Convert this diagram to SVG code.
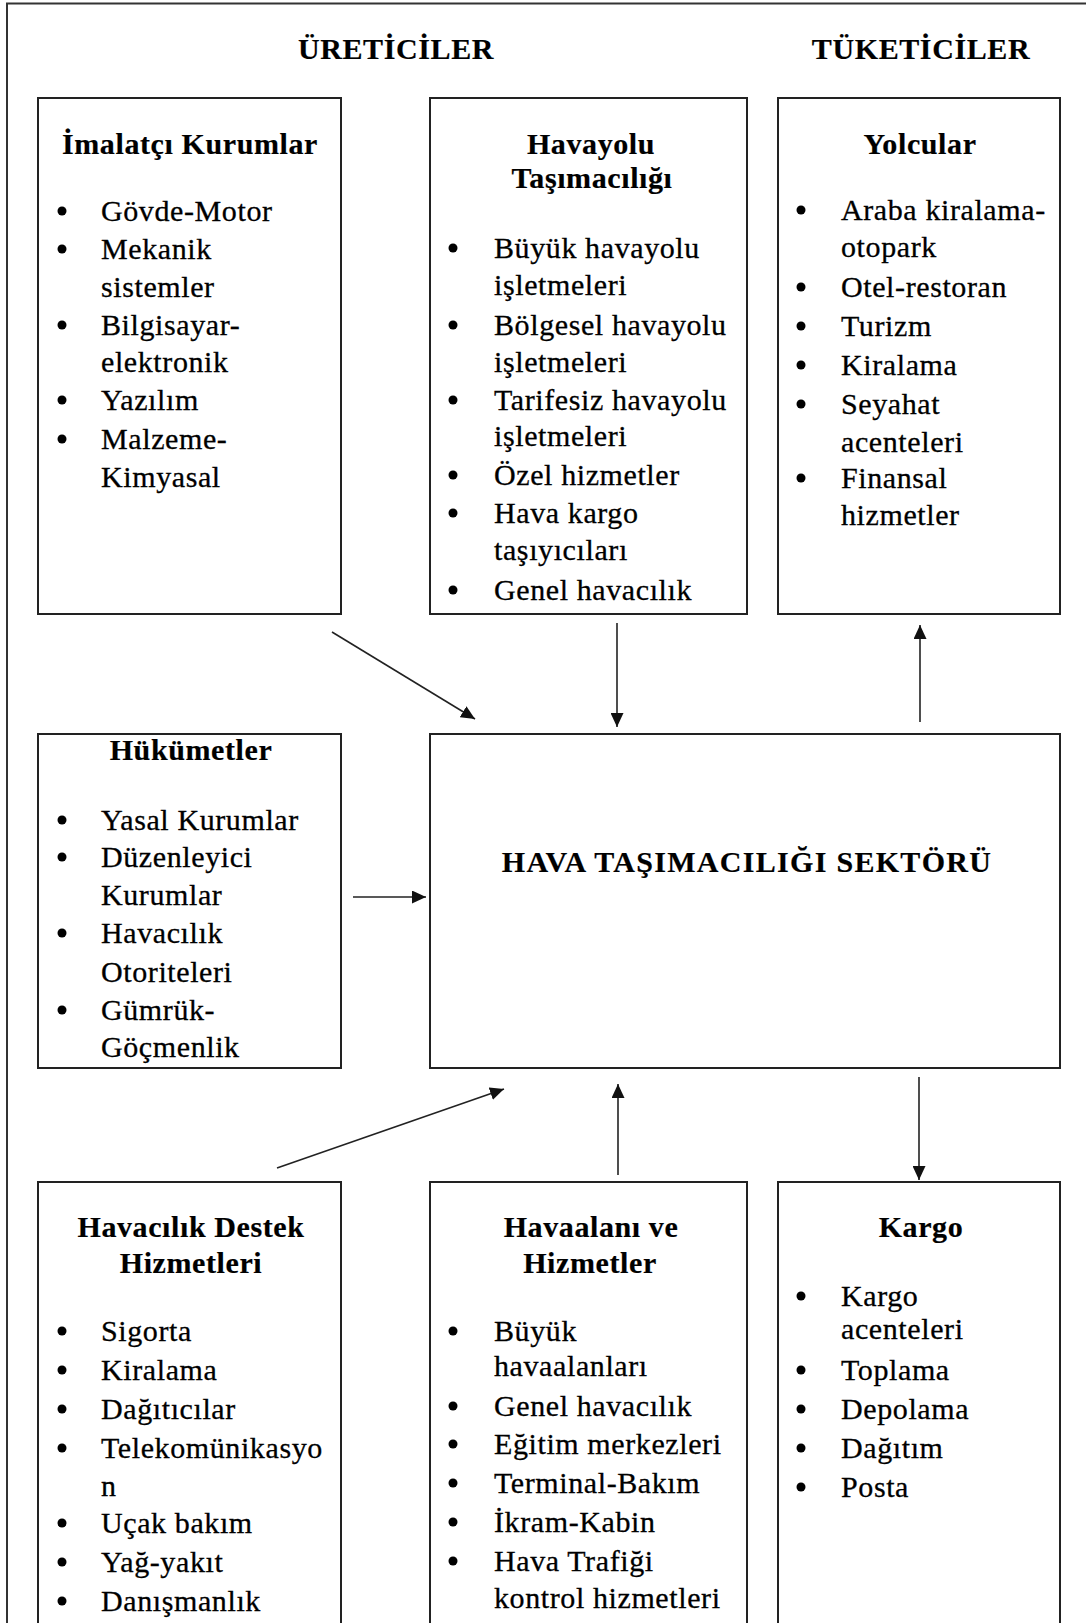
<svg xmlns="http://www.w3.org/2000/svg" width="1086" height="1623" viewBox="0 0 1086 1623">
<style>
.box{fill:#fff;stroke:#222;stroke-width:2}
.frame{fill:none;stroke:#333;stroke-width:2}
text{font-family:"Liberation Serif","Times New Roman",serif;font-size:30px;fill:#000;letter-spacing:0.6px;stroke:#000;stroke-width:0.3px}
.h{font-weight:bold;text-anchor:middle;stroke-width:0.2px}
.wide{letter-spacing:1.3px}
.b{fill:#000}
.conn{stroke:#222;stroke-width:1.6;fill:none;marker-end:url(#ah)}
</style>
<defs>
<marker id="ah" markerUnits="userSpaceOnUse" markerWidth="14" markerHeight="13" refX="14" refY="6.5" orient="auto">
<path d="M0,0 L14,6.5 L0,13 z" fill="#111"/>
</marker>
</defs>
<rect width="1086" height="1623" fill="#fff"/>
<path class="frame" d="M7,1640 V3.5 H1090"/>
<text class="h" x="396" y="59">ÜRETİCİLER</text>
<text class="h" x="921" y="59">TÜKETİCİLER</text>

<g id="imalatci">
<rect class="box" x="38" y="98" width="303" height="516"/>
<text class="h" x="190" y="154">İmalatçı Kurumlar</text>
<circle class="b" cx="62" cy="211" r="4.5"/><text x="101" y="221">Gövde-Motor</text>
<circle class="b" cx="62" cy="249" r="4.5"/><text x="101" y="259">Mekanik</text>
<text x="101" y="297">sistemler</text>
<circle class="b" cx="62" cy="325" r="4.5"/><text x="101" y="335">Bilgisayar-</text>
<text x="101" y="372">elektronik</text>
<circle class="b" cx="62" cy="400" r="4.5"/><text x="101" y="410">Yazılım</text>
<circle class="b" cx="62" cy="439" r="4.5"/><text x="101" y="449">Malzeme-</text>
<text x="101" y="487">Kimyasal</text>
</g>

<g id="havayolu">
<rect class="box" x="430" y="98" width="317" height="516"/>
<text class="h" x="591" y="154">Havayolu</text>
<text class="h" x="592" y="188">Taşımacılığı</text>
<circle class="b" cx="453" cy="248" r="4.5"/><text x="494" y="258">Büyük havayolu</text>
<text x="494" y="295">işletmeleri</text>
<circle class="b" cx="453" cy="325" r="4.5"/><text x="494" y="335">Bölgesel havayolu</text>
<text x="494" y="372">işletmeleri</text>
<circle class="b" cx="453" cy="400" r="4.5"/><text x="494" y="410">Tarifesiz havayolu</text>
<text x="494" y="446">işletmeleri</text>
<circle class="b" cx="453" cy="475" r="4.5"/><text x="494" y="485">Özel hizmetler</text>
<circle class="b" cx="453" cy="513" r="4.5"/><text x="494" y="523">Hava kargo</text>
<text x="494" y="560">taşıyıcıları</text>
<circle class="b" cx="453" cy="590" r="4.5"/><text x="494" y="600">Genel havacılık</text>
</g>

<g id="yolcular">
<rect class="box" x="778" y="98" width="282" height="516"/>
<text class="h" x="920" y="154">Yolcular</text>
<circle class="b" cx="801" cy="210" r="4.5"/><text x="841" y="220">Araba kiralama-</text>
<text x="841" y="257">otopark</text>
<circle class="b" cx="801" cy="287" r="4.5"/><text x="841" y="297">Otel-restoran</text>
<circle class="b" cx="801" cy="326" r="4.5"/><text x="841" y="336">Turizm</text>
<circle class="b" cx="801" cy="365" r="4.5"/><text x="841" y="375">Kiralama</text>
<circle class="b" cx="801" cy="404" r="4.5"/><text x="841" y="414">Seyahat</text>
<text x="841" y="452">acenteleri</text>
<circle class="b" cx="801" cy="478" r="4.5"/><text x="841" y="488">Finansal</text>
<text x="841" y="525">hizmetler</text>
</g>

<g id="hukumetler">
<rect class="box" x="38" y="734" width="303" height="334"/>
<text class="h" x="191" y="760">Hükümetler</text>
<circle class="b" cx="62" cy="820" r="4.5"/><text x="101" y="830">Yasal Kurumlar</text>
<circle class="b" cx="62" cy="857" r="4.5"/><text x="101" y="867">Düzenleyici</text>
<text x="101" y="905">Kurumlar</text>
<circle class="b" cx="62" cy="933" r="4.5"/><text x="101" y="943">Havacılık</text>
<text x="101" y="982">Otoriteleri</text>
<circle class="b" cx="62" cy="1010" r="4.5"/><text x="101" y="1020">Gümrük-</text>
<text x="101" y="1057">Göçmenlik</text>
</g>

<g id="sektor">
<rect class="box" x="430" y="734" width="630" height="334"/>
<text class="h wide" x="747" y="872">HAVA TAŞIMACILIĞI SEKTÖRÜ</text>
</g>

<g id="destek">
<rect class="box" x="38" y="1182" width="303" height="460"/>
<text class="h" x="191" y="1237">Havacılık Destek</text>
<text class="h" x="191" y="1273">Hizmetleri</text>
<circle class="b" cx="62" cy="1331" r="4.5"/><text x="101" y="1341">Sigorta</text>
<circle class="b" cx="62" cy="1370" r="4.5"/><text x="101" y="1380">Kiralama</text>
<circle class="b" cx="62" cy="1409" r="4.5"/><text x="101" y="1419">Dağıtıcılar</text>
<circle class="b" cx="62" cy="1448" r="4.5"/><text x="101" y="1458">Telekomünikasyo</text>
<text x="101" y="1496">n</text>
<circle class="b" cx="62" cy="1523" r="4.5"/><text x="101" y="1533">Uçak bakım</text>
<circle class="b" cx="62" cy="1562" r="4.5"/><text x="101" y="1572">Yağ-yakıt</text>
<circle class="b" cx="62" cy="1601" r="4.5"/><text x="101" y="1611">Danışmanlık</text>
</g>

<g id="havaalani">
<rect class="box" x="430" y="1182" width="317" height="460"/>
<text class="h" x="591" y="1237">Havaalanı ve</text>
<text class="h" x="590" y="1273">Hizmetler</text>
<circle class="b" cx="453" cy="1331" r="4.5"/><text x="494" y="1341">Büyük</text>
<text x="494" y="1376">havaalanları</text>
<circle class="b" cx="453" cy="1406" r="4.5"/><text x="494" y="1416">Genel havacılık</text>
<circle class="b" cx="453" cy="1444" r="4.5"/><text x="494" y="1454">Eğitim merkezleri</text>
<circle class="b" cx="453" cy="1483" r="4.5"/><text x="494" y="1493">Terminal-Bakım</text>
<circle class="b" cx="453" cy="1522" r="4.5"/><text x="494" y="1532">İkram-Kabin</text>
<circle class="b" cx="453" cy="1561" r="4.5"/><text x="494" y="1571">Hava Trafiği</text>
<text x="494" y="1608">kontrol hizmetleri</text>
</g>

<g id="kargo">
<rect class="box" x="778" y="1182" width="282" height="460"/>
<text class="h" x="921" y="1237">Kargo</text>
<circle class="b" cx="801" cy="1296" r="4.5"/><text x="841" y="1306">Kargo</text>
<text x="841" y="1339">acenteleri</text>
<circle class="b" cx="801" cy="1370" r="4.5"/><text x="841" y="1380">Toplama</text>
<circle class="b" cx="801" cy="1409" r="4.5"/><text x="841" y="1419">Depolama</text>
<circle class="b" cx="801" cy="1448" r="4.5"/><text x="841" y="1458">Dağıtım</text>
<circle class="b" cx="801" cy="1487" r="4.5"/><text x="841" y="1497">Posta</text>
</g>

<g id="connectors">
<line class="conn" x1="332" y1="632" x2="475" y2="719"/>
<line class="conn" x1="617" y1="623" x2="617" y2="727"/>
<line class="conn" x1="920" y1="722" x2="920" y2="625"/>
<line class="conn" x1="353" y1="897" x2="426" y2="897"/>
<line class="conn" x1="277" y1="1168" x2="504" y2="1089"/>
<line class="conn" x1="618" y1="1175" x2="618" y2="1084"/>
<line class="conn" x1="919" y1="1077" x2="919" y2="1180"/>
</g>
</svg>
